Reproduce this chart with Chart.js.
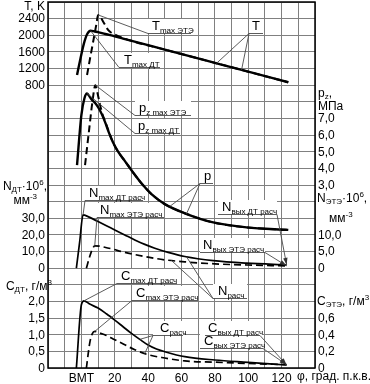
<!DOCTYPE html>
<html>
<head>
<meta charset="utf-8">
<script src="https://cdn.jsdelivr.net/npm/chart.js@4.4.1/dist/chart.umd.min.js"></script>
<style>
  html, body { margin: 0; padding: 0; background: #fff; }
  #chart { display: block; }
</style>
</head>
<body>
<canvas id="chart" width="370" height="384"></canvas>
<script>
// crank angle, deg (0 = ВМТ)
const tDtPhi  = [-2.6, -0.5, 1.5, 3.5, 5.5, 8, 10.5, 15, 20, 25, 50, 75, 100, 124];
const tDt     = [1045, 1450, 1800, 2030, 2110, 2090, 2070, 2025, 1975, 1920, 1655, 1390, 1125, 870];
const tEtePhi = [3.4, 5.5, 7.5, 9, 10, 11.5, 13, 14.5, 16, 18, 20.5, 24, 28, 50, 75, 100, 124];
const tEte    = [1045, 1510, 1940, 2270, 2490, 2440, 2330, 2230, 2130, 2060, 2010, 1950, 1890, 1655, 1390, 1125, 870];

const pDtPhi  = [-2.6, 0, 1.8, 3.4, 5, 6.5, 8.5, 10.5, 12.5, 14.5, 16.5, 19, 22, 26, 31, 36, 42, 50, 62, 79, 99, 124];
const pDt     = [4.2, 7.2, 8.2, 8.5, 8.3, 8.1, 7.9, 7.6, 7.2, 6.7, 6.15, 5.55, 5.0, 4.45, 3.75, 3.1, 2.45, 1.85, 1.3, 0.75, 0.45, 0.3];
const pEtePhi = [2.2, 4.5, 6.5, 8.4, 9.5, 11, 12.5, 14.5, 16.5, 19, 22, 26, 31, 36, 42, 50, 62, 79, 99, 124];
const pEte    = [4.2, 6.2, 7.9, 9.0, 8.6, 7.9, 7.3, 6.75, 6.2, 5.55, 5.0, 4.45, 3.75, 3.1, 2.45, 1.85, 1.3, 0.75, 0.45, 0.3];

const nDtPhi  = [-3, -1, 1, 4, 10, 15, 20, 26, 32, 38, 44, 52, 62, 79, 99, 123];
const nDt     = [0, 16, 32, 31, 28, 25.5, 23, 20, 17, 14.3, 12, 9.5, 7, 4.5, 3, 2];
const nEtePhi = [3, 5, 6.5, 8, 11, 14, 19, 24, 32, 40, 50, 62, 80, 100, 123];
const nEte    = [0, 3.5, 5.6, 6.7, 6.6, 6.3, 5.7, 5.0, 4.1, 3.3, 2.5, 1.9, 1.3, 0.95, 0.7];

const cDtPhi  = [-3, 0, 1.6, 5, 10, 15, 20, 25, 30, 35, 40, 45, 50, 62, 80, 100, 123];
const cDt     = [0, 1.9, 2.02, 1.92, 1.8, 1.63, 1.44, 1.24, 1.04, 0.86, 0.69, 0.57, 0.49, 0.34, 0.24, 0.17, 0.09];
const cEtePhi = [3, 5, 6.5, 8, 11, 14, 19, 24, 32, 40, 50, 62, 80, 100, 123];
const cEte    = [0, 0.3, 0.41, 0.44, 0.42, 0.40, 0.35, 0.30, 0.22, 0.16, 0.12, 0.085, 0.07, 0.055, 0.04];

// tick labels
const xTicks     = [0, 20, 40, 60, 80, 100, 120];
const xTickNames = ['ВМТ', '20', '40', '60', '80', '100', '120'];
const tTicks     = [2400, 2000, 1600, 1200, 800];
const nDtTicks   = [30, 20, 10, 0];
const cDtTicks   = [2.0, 1.5, 1.0, 0.5, 0];
const pTicks     = [7, 6, 5, 4, 3];
const nEteTicks  = [10, 5, 0];
const cEteTicks  = [0.6, 0.4, 0.2, 0];

const FONT = '"Liberation Sans", Arial, sans-serif';
Chart.defaults.font.family = FONT;
Chart.defaults.color = '#000';

const series = {
  tDt:  { phi: tDtPhi,  v: tDt,  axis: 'yT',  w: 2.4, dash: [] },
  tEte: { phi: tEtePhi, v: tEte, axis: 'yT',  w: 2,   dash: [7, 4] },
  pDt:  { phi: pDtPhi,  v: pDt,  axis: 'yP',  w: 2.4, dash: [] },
  pEte: { phi: pEtePhi, v: pEte, axis: 'yP',  w: 2,   dash: [7, 4] },
  nDt:  { phi: nDtPhi,  v: nDt,  axis: 'yNd', w: 1.7, dash: [] },
  nEte: { phi: nEtePhi, v: nEte, axis: 'yNe', w: 1.7, dash: [7, 4] },
  cDt:  { phi: cDtPhi,  v: cDt,  axis: 'yCd', w: 1.7, dash: [] },
  cEte: { phi: cEtePhi, v: cEte, axis: 'yCe', w: 1.7, dash: [7, 4] }
};

const datasets = Object.entries(series).map(([key, s]) => ({
  label: key,
  data: s.phi.map((p, i) => ({ x: p, y: s.v[i] })),
  yAxisID: s.axis,
  borderColor: '#000',
  borderWidth: s.w,
  borderDash: s.dash,
  pointRadius: 0,
  cubicInterpolationMode: 'monotone',
  fill: false
}));

// labels with leader lines
const notes = [
  { parts: [['T'], ['max ЭТЭ', 'sub']], ul: [148, 191, 33], tx: 152, end: 'l', to: [{ s: 'tEte', at: 'max' }] },
  { parts: [['T'], ['max ДТ', 'sub']], ul: [119, 160, 67], tx: 124, end: 'l', to: [{ s: 'tDt', at: 'max' }] },
  { parts: [['T']], ul: [249, 263, 33], tx: 252, end: 'l', to: [{ s: 'tDt', at: 81 }, { s: 'tEte', at: 96 }] },
  { parts: [['p'], ['z max ЭТЭ', 'sub']], ul: [135, 191, 115], tx: 139, end: 'l', to: [{ s: 'pEte', at: 'max' }] },
  { parts: [['p'], ['z max ДТ', 'sub']], ul: [135, 180, 133], tx: 138, end: 'l', to: [{ s: 'pDt', at: 'max' }] },
  { parts: [['p']], ul: [200, 213, 183], tx: 204, end: 'l', to: [{ s: 'pDt', at: 53 }, { s: 'pEte', at: 63 }] },
  { parts: [['N'], ['max ДТ расч', 'sub']], ul: [85, 143, 200], tx: 89, end: 'l', to: [{ s: 'nDt', at: 'max' }] },
  { parts: [['N'], ['max ЭТЭ расч', 'sub']], ul: [97, 164, 217], tx: 100, end: 'l', to: [{ s: 'nEte', at: 'max' }] },
  { parts: [['N'], ['вых ДТ расч', 'sub']], ul: [218, 277, 214], tx: 222, end: 'r', arrow: true, to: [{ s: 'nDt', at: 'end' }] },
  { parts: [['N'], ['вых ЭТЭ расч', 'sub']], ul: [200, 265, 252], tx: 203, end: 'r', arrow: true, to: [{ s: 'nEte', at: 'end' }] },
  { parts: [['N'], ['расч', 'sub']], ul: [213, 247, 298], tx: 218, end: 'l', to: [{ s: 'nDt', at: 63 }, { s: 'nEte', at: 54 }] },
  { parts: [['C'], ['max ДТ расч', 'sub']], ul: [117, 177, 283], tx: 121, end: 'l', to: [{ s: 'cDt', at: 'max' }] },
  { parts: [['C'], ['max ЭТЭ расч', 'sub']], ul: [132, 198, 300], tx: 136, end: 'l', to: [{ s: 'cEte', at: 'max' }] },
  { parts: [['C'], ['расч', 'sub']], ul: [153, 183, 335], tx: 160, end: 'l', to: [{ s: 'cDt', at: 35 }, { s: 'cEte', at: 38 }] },
  { parts: [['C'], ['вых ДТ расч', 'sub']], ul: [205, 260, 335], tx: 208, end: 'r', arrow: true, to: [{ s: 'cDt', at: 'end' }] },
  { parts: [['C'], ['вых ЭТЭ расч', 'sub']], ul: [200, 263, 348], tx: 204, end: 'r', arrow: true, to: [{ s: 'cEte', at: 'end' }] }
];

const fmt = (v, d) => v === 0 ? '0' : v.toFixed(d).replace('.', ',');

function rich(ctx, parts, x, y, size, align) {
  const small = Math.round(size * 0.65);
  const fontOf = k => (k ? small : size) + 'px ' + FONT;
  let w = 0;
  parts.forEach(([t, k]) => { ctx.font = fontOf(k); w += ctx.measureText(t).width; });
  let cx = align === 'right' ? x - w : x;
  ctx.textAlign = 'left';
  ctx.textBaseline = 'alphabetic';
  parts.forEach(([t, k]) => {
    ctx.font = fontOf(k);
    const dy = k === 'sub' ? size * 0.2 : k === 'sup' ? -size * 0.45 : 0;
    ctx.fillText(t, cx, y + dy);
    cx += ctx.measureText(t).width;
  });
  return w;
}

function target(chart, t) {
  const s = series[t.s];
  let phi, v;
  if (t.at === 'max') {
    const i = s.v.indexOf(Math.max(...s.v));
    phi = s.phi[i]; v = s.v[i];
  } else if (t.at === 'end') {
    phi = s.phi[s.phi.length - 1]; v = s.v[s.v.length - 1];
  } else {
    phi = t.at;
    let i = 1;
    while (i < s.phi.length - 1 && s.phi[i] < phi) i++;
    const f = (phi - s.phi[i - 1]) / (s.phi[i] - s.phi[i - 1]);
    v = s.v[i - 1] + f * (s.v[i] - s.v[i - 1]);
  }
  return [chart.scales.x.getPixelForValue(phi), chart.scales[s.axis].getPixelForValue(v)];
}

function tickColumn(chart, axis, values, digits, side) {
  const ctx = chart.ctx, sc = chart.scales[axis], ca = chart.chartArea;
  ctx.font = '12px ' + FONT;
  ctx.fillStyle = '#000';
  ctx.textBaseline = 'middle';
  ctx.textAlign = side === 'left' ? 'right' : 'left';
  const x = side === 'left' ? ca.left - 3 : ca.right + 3;
  values.forEach(v => ctx.fillText(fmt(v, digits), x, sc.getPixelForValue(v) + 0.5));
}

const decor = {
  id: 'decor',
  beforeDatasetsDraw(chart) {
    const ctx = chart.ctx;
    ctx.save();
    ctx.fillStyle = '#fff';
    notes.forEach(n => ctx.fillRect(n.ul[0], n.ul[2] - 14, n.ul[1] - n.ul[0], 14));
    ctx.restore();
  },
  afterDatasetsDraw(chart) {
    const ctx = chart.ctx, ca = chart.chartArea;
    ctx.save();
    // leaders and underlines
    ctx.strokeStyle = '#4a4a4a';
    ctx.fillStyle = '#333';
    ctx.lineWidth = 0.9;
    notes.forEach(n => {
      const [x0, x1, y] = n.ul;
      ctx.beginPath();
      ctx.moveTo(x0, y + 0.5); ctx.lineTo(x1, y + 0.5);
      ctx.stroke();
      const sx = n.end === 'l' ? x0 : x1;
      n.to.forEach(t => {
        const [tx, ty] = target(chart, t);
        ctx.beginPath();
        ctx.moveTo(sx, y + 0.5); ctx.lineTo(tx, ty);
        ctx.stroke();
        if (n.arrow) {
          const a = Math.atan2(ty - y, tx - sx);
          ctx.beginPath();
          ctx.moveTo(tx, ty);
          ctx.lineTo(tx - 7 * Math.cos(a) + 2.2 * Math.sin(a), ty - 7 * Math.sin(a) - 2.2 * Math.cos(a));
          ctx.lineTo(tx - 7 * Math.cos(a) - 2.2 * Math.sin(a), ty - 7 * Math.sin(a) + 2.2 * Math.cos(a));
          ctx.closePath();
          ctx.fill();
        }
      });
    });
    // label texts
    ctx.fillStyle = '#000';
    notes.forEach(n => rich(ctx, n.parts, n.tx, n.ul[2] - 3, 13, 'left'));

    // frame
    ctx.strokeStyle = '#000';
    ctx.lineWidth = 1.5;
    ctx.strokeRect(ca.left, ca.top, ca.right - ca.left, ca.bottom - ca.top);

    // tick label columns
    tickColumn(chart, 'yT', tTicks, 0, 'left');
    tickColumn(chart, 'yNd', nDtTicks, 1, 'left');
    tickColumn(chart, 'yCd', cDtTicks, 1, 'left');
    tickColumn(chart, 'yP', pTicks, 1, 'right');
    tickColumn(chart, 'yNe', nEteTicks, 1, 'right');
    tickColumn(chart, 'yCe', cEteTicks, 1, 'right');

    // axis titles
    ctx.fillStyle = '#000';
    rich(ctx, [['T, K']], 45, 10, 12, 'right');
    rich(ctx, [['N'], ['ДТ', 'sub'], ['·10'], ['6', 'sup'], [',']], 47, 190, 12, 'right');
    rich(ctx, [['мм'], ['-3', 'sup']], 37, 204, 12, 'right');
    rich(ctx, [['C'], ['ДТ', 'sub'], [', г/м'], ['3', 'sup']], 52, 290, 12, 'right');
    rich(ctx, [['p'], ['z', 'sub'], [',']], 318, 97, 12, 'left');
    rich(ctx, [['МПа']], 318, 110, 12, 'left');
    rich(ctx, [['N'], ['ЭТЭ', 'sub'], ['·10'], ['6', 'sup'], [',']], 317, 202, 12, 'left');
    rich(ctx, [['мм'], ['-3', 'sup']], 329, 222, 12, 'left');
    rich(ctx, [['C'], ['ЭТЭ', 'sub'], [', г/м'], ['3', 'sup']], 317, 305, 12, 'left');
    ctx.font = '12px ' + FONT;
    ctx.textAlign = 'left';
    ctx.textBaseline = 'middle';
    ctx.fillText('φ, град. п.к.в.', 297, 377);
    ctx.restore();
  }
};

const hidden = (min, max, position) => ({ type: 'linear', display: false, position, min, max });

new Chart(document.getElementById('chart'), {
  type: 'line',
  data: { datasets },
  options: {
    responsive: false,
    animation: false,
    devicePixelRatio: 1,
    layout: { padding: { top: 2, right: 55, left: 0, bottom: 0 } },
    plugins: { legend: { display: false }, tooltip: { enabled: false } },
    scales: {
      x: {
        type: 'linear', min: -20, max: 140,
        border: { display: false },
        grid: { color: '#808080', lineWidth: 1, drawTicks: false },
        ticks: {
          stepSize: 10, autoSkip: false, maxRotation: 0, padding: 3,
          font: { size: 12 },
          callback: v => { const i = xTicks.indexOf(v); return i < 0 ? '' : xTickNames[i]; }
        },
        afterFit: s => { s.height = 16; }
      },
      yT: {
        type: 'linear', position: 'left', min: -6000, max: 2800,
        border: { display: false },
        grid: { color: '#808080', lineWidth: 1, drawTicks: false },
        ticks: { stepSize: 400, display: false },
        afterFit: s => { s.width = 48; }
      },
      yP: hidden(-8, 14, 'right'),
      yNd: hidden(-60, 160, 'left'),
      yNe: hidden(-30, 80, 'right'),
      yCd: hidden(0, 11, 'left'),
      yCe: hidden(0, 4.4, 'right')
    }
  },
  plugins: [decor]
});
</script>
</body>
</html>
